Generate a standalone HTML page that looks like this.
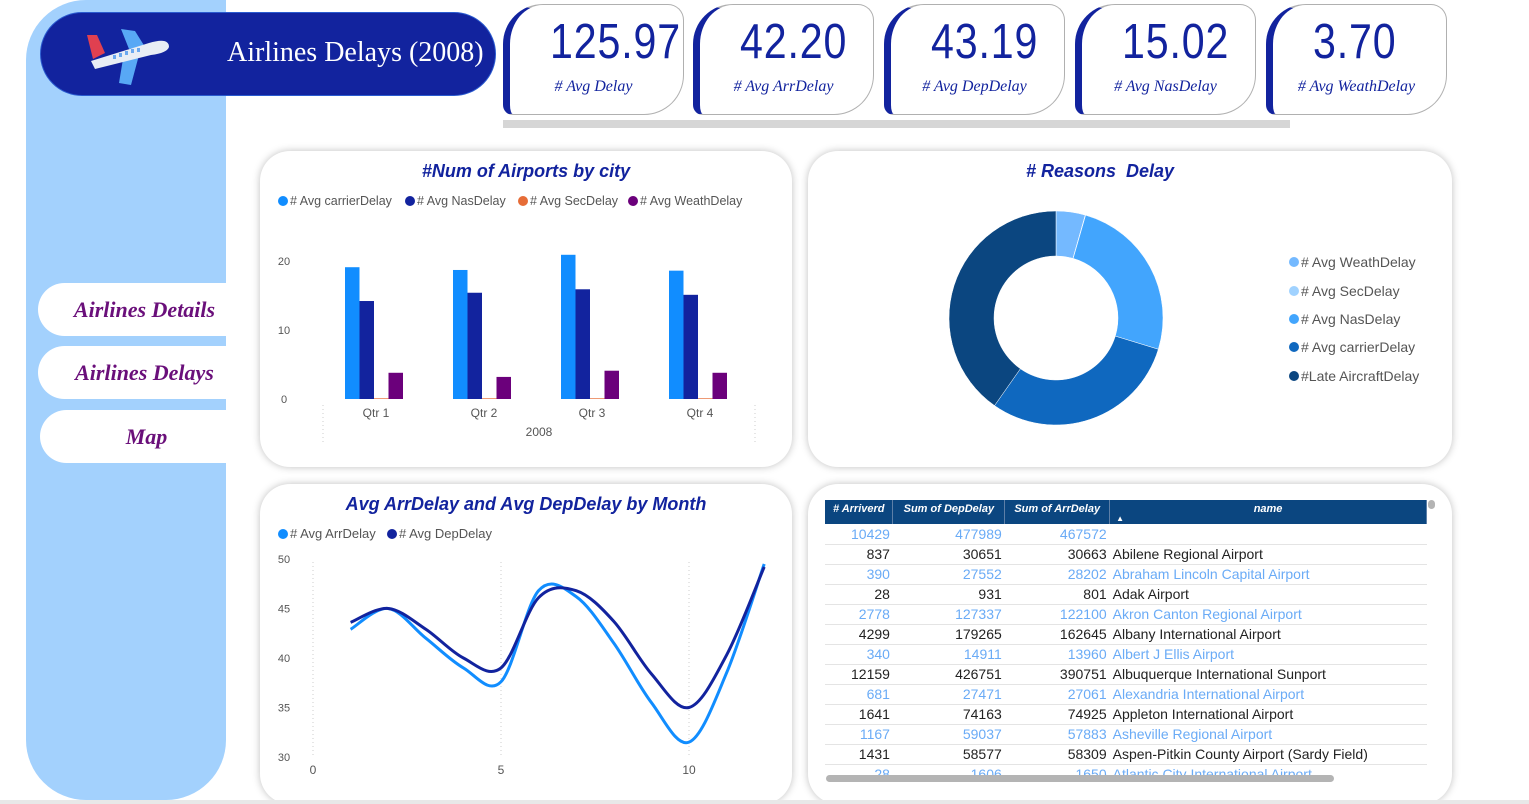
<!DOCTYPE html>
<html><head><meta charset="utf-8">
<style>
*{box-sizing:border-box;margin:0;padding:0}
body{width:1529px;height:804px;background:#fff;position:relative;overflow:hidden;font-family:"Liberation Sans",sans-serif}
.abs{position:absolute}
#sidebar{left:26px;top:0;width:200px;height:800px;background:#a3d1fd;border-radius:60px 0 60px 60px}
#header{left:40px;top:12px;width:456px;height:84px;background:#12239e;border-radius:42px;border:1px solid #2a5bd0}
#header .t{position:absolute;left:186px;top:24px;color:#fff;font-family:"Liberation Serif",serif;font-size:28px;white-space:nowrap}
.nav{position:absolute;left:38px;width:189px;height:53px;background:#fff;border-radius:27px 0 0 27px;color:#6a0f7a;font-family:"Liberation Serif",serif;font-style:italic;font-weight:bold;font-size:22px;text-align:center;line-height:53px;padding-left:24px}
.kpi{position:absolute;top:4px;width:181px;height:111px;border:1px solid #b0b0b0;border-left:7px solid #12239e;border-radius:40px 16px 40px 10px;background:#fff}
.kpi .v{position:absolute;top:9px;left:40px;white-space:nowrap;color:#12239e;font-family:"Liberation Sans",sans-serif;font-size:49px;letter-spacing:1px;transform:scaleX(0.84);transform-origin:left center}
.kpi .l{position:absolute;top:73px;width:100%;text-align:center;color:#12239e;font-family:"Liberation Serif",serif;font-style:italic;font-size:16px;padding-right:6px}
.panel{position:absolute;background:#fff;border-radius:30px;box-shadow:0 0 8px rgba(0,0,0,.25)}
.ptitle{position:absolute;width:100%;text-align:center;color:#12239e;font-style:italic;font-weight:bold;font-size:18px}
table{border-collapse:collapse;font-size:14px}
td{height:20px;border-bottom:1px solid #e4e4e4;padding:0 3px;white-space:nowrap;color:#222}
td.n{text-align:right}
tr.alt td{color:#6aabf6}
th{background:#0b4680;color:#fff;font-size:11px;font-style:italic;font-weight:bold;height:24px;border-right:1px solid #5d7fa7;vertical-align:top;padding-top:3px}
</style></head><body>
<div id="sidebar" class="abs"></div>
<div id="header" class="abs">
 <svg class="abs" style="left:38px;top:12px" width="96" height="60" viewBox="0 0 96 60">
  <polygon points="8,10 18,10 26,28 14,34" fill="#e04050"/>
  <polygon points="42,4 56,6 66,22 50,24" fill="#58a8f5"/>
  <polygon points="44,34 60,30 52,60 40,58" fill="#58a8f5"/>
  <path d="M12,36 L70,18 Q90,12 90,22 Q88,28 72,30 L16,44 Z" fill="#e8edf5"/>
  <g fill="#6aa8f0"><rect x="34" y="30" width="3" height="4"/><rect x="40" y="28" width="3" height="4"/><rect x="46" y="26" width="3" height="4"/><rect x="52" y="24" width="3" height="4"/><rect x="58" y="23" width="3" height="4"/></g>
 </svg>
 <div class="t">Airlines Delays (2008)</div>
</div>
<div class="nav" style="top:283px">Airlines Details</div>
<div class="nav" style="top:346px">Airlines Delays</div>
<div class="nav" style="top:410px;left:40px">Map</div>

<div class="kpi" style="left:503px"><div class="v">125.97</div><div class="l"># Avg Delay</div></div>
<div class="kpi" style="left:693px"><div class="v">42.20</div><div class="l"># Avg ArrDelay</div></div>
<div class="kpi" style="left:884px"><div class="v">43.19</div><div class="l"># Avg DepDelay</div></div>
<div class="kpi" style="left:1075px"><div class="v">15.02</div><div class="l"># Avg NasDelay</div></div>
<div class="kpi" style="left:1266px"><div class="v">3.70</div><div class="l"># Avg WeathDelay</div></div>
<div class="abs" style="left:503px;top:120px;width:787px;height:8px;background:#d6d6d6"></div>

<div class="panel" style="left:260px;top:151px;width:532px;height:316px">
 <div class="ptitle" style="top:10px">#Num of Airports by city</div>
</div>
<div class="panel" style="left:808px;top:151px;width:644px;height:316px">
 <div class="ptitle" style="top:10px;left:-30px"># Reasons&nbsp; Delay</div>
</div>
<div class="panel" style="left:260px;top:484px;width:532px;height:320px">
 <div class="ptitle" style="top:10px">Avg ArrDelay and Avg DepDelay by Month</div>
</div>
<div class="panel" style="left:808px;top:484px;width:644px;height:320px;overflow:hidden">
 <div class="abs" style="left:17px;top:16px;width:602px;height:275px;overflow:hidden">
 <table>
  <colgroup><col style="width:68px"><col style="width:112px"><col style="width:105px"><col style="width:317px"></colgroup>
  <tr><th># Arriverd</th><th>Sum of DepDelay</th><th>Sum of ArrDelay</th><th style="position:relative">name<span style="position:absolute;left:6px;top:14px;font-size:8px;font-style:normal">▲</span></th></tr>
  <tr class="alt"><td class="n">10429</td><td class="n">477989</td><td class="n">467572</td><td></td></tr>
  <tr><td class="n">837</td><td class="n">30651</td><td class="n">30663</td><td>Abilene Regional Airport</td></tr>
  <tr class="alt"><td class="n">390</td><td class="n">27552</td><td class="n">28202</td><td>Abraham Lincoln Capital Airport</td></tr>
  <tr><td class="n">28</td><td class="n">931</td><td class="n">801</td><td>Adak Airport</td></tr>
  <tr class="alt"><td class="n">2778</td><td class="n">127337</td><td class="n">122100</td><td>Akron Canton Regional Airport</td></tr>
  <tr><td class="n">4299</td><td class="n">179265</td><td class="n">162645</td><td>Albany International Airport</td></tr>
  <tr class="alt"><td class="n">340</td><td class="n">14911</td><td class="n">13960</td><td>Albert J Ellis Airport</td></tr>
  <tr><td class="n">12159</td><td class="n">426751</td><td class="n">390751</td><td>Albuquerque International Sunport</td></tr>
  <tr class="alt"><td class="n">681</td><td class="n">27471</td><td class="n">27061</td><td>Alexandria International Airport</td></tr>
  <tr><td class="n">1641</td><td class="n">74163</td><td class="n">74925</td><td>Appleton International Airport</td></tr>
  <tr class="alt"><td class="n">1167</td><td class="n">59037</td><td class="n">57883</td><td>Asheville Regional Airport</td></tr>
  <tr><td class="n">1431</td><td class="n">58577</td><td class="n">58309</td><td>Aspen-Pitkin County Airport (Sardy Field)</td></tr>
  <tr class="alt"><td class="n">28</td><td class="n">1606</td><td class="n">1650</td><td>Atlantic City International Airport</td></tr>
 </table></div>
 <div class="abs" style="left:18px;top:291px;width:508px;height:7px;border-radius:4px;background:#b4b4b4"></div>
 <div class="abs" style="left:620px;top:16px;width:7px;height:9px;border-radius:4px;background:#b4b4b4"></div>
</div>

<svg id="charts" class="abs" style="left:0;top:0" width="1529" height="804"></svg>
<div class="abs" style="left:0;top:800px;width:1529px;height:4px;background:#e8e8e8"></div>

<script>
const quarters=["Qtr 1","Qtr 2","Qtr 3","Qtr 4"];
const carrierDelay=[19.1,18.7,20.9,18.6];
const nasDelay=[14.2,15.4,15.9,15.1];
const secDelay=[0.1,0.1,0.1,0.1];
const weathDelay=[3.8,3.2,4.1,3.8];
const barTicks=[0,10,20];
const months=[1,2,3,4,5,6,7,8,9,10,11,12];
const arrDelay=[42.9,45.0,42.0,39.0,37.6,46.8,46.2,41.5,35.5,31.5,38.5,49.5];
const depDelay=[43.6,45.0,42.9,40.0,39.0,46.1,46.8,43.7,38.4,35.0,40.3,49.2];
const lineYTicks=[30,35,40,45,50];
const lineXTicks=[0,5,10];
const donutLabels=["# Avg WeathDelay","# Avg SecDelay","# Avg NasDelay","# Avg carrierDelay","#Late AircraftDelay"];
const donutValues=[3.7,0.05,21.2,25.2,33.8];

const svg=document.getElementById('charts');
const NS='http://www.w3.org/2000/svg';
function mk(tag,attrs,parent){const e=document.createElementNS(NS,tag);for(const k in attrs)e.setAttribute(k,attrs[k]);(parent||svg).appendChild(e);return e;}
function txt(x,y,s,attrs,parent){const e=mk('text',Object.assign({x:x,y:y,'font-family':'Liberation Sans, sans-serif','font-size':12,fill:'#555'},attrs||{}),parent);e.textContent=s;return e;}

// ---- bar chart ----
const bY=v=>399-v*6.9;
const bX=i=>376+i*108;
const gBar=mk('g',{});


barTicks.forEach(t=>{const e=txt(284,bY(t)+4,String(t),{'font-size':11,'text-anchor':'middle'},gBar);
 });
[323,755].forEach(x=>{const l=mk('line',{x1:x,x2:x,y1:405,y2:442,stroke:'#ccc','stroke-dasharray':'1,3'},gBar);});
const barSeries=[[carrierDelay,'#118dff'],[nasDelay,'#12239e'],[secDelay,'#e66c37'],[weathDelay,'#6b007b']];
quarters.forEach((q,i)=>{
 barSeries.forEach((s,j)=>{const v=s[0][i];
  const r=mk('rect',{x:bX(i)-31+j*14.5,y:bY(v),width:14.5,height:bY(0)-bY(v),fill:s[1]},gBar);
  
  });
 const t=txt(bX(i),417,q,{'text-anchor':'middle'},gBar);
 
});
const yr=txt(539,436,'2008',{'text-anchor':'middle'},gBar);

const barLeg=[['# Avg carrierDelay','#118dff',278],['# Avg NasDelay','#12239e',405],['# Avg SecDelay','#e66c37',518],['# Avg WeathDelay','#6b007b',628]];
barLeg.forEach(l=>{const g=mk('g',{},gBar);
 
 mk('circle',{cx:l[2]+5,cy:201,r:5,fill:l[1]},g);txt(l[2]+12,205,l[0],{'font-size':12.5},g);});

// ---- line chart ----
const lX=m=>313+m*37.6;
const lY=v=>559+(50-v)*9.9;
const gLine=mk('g',{});


lineYTicks.forEach(t=>{const e=txt(284,lY(t)+4,String(t),{'font-size':11,'text-anchor':'middle'},gLine);
 });
lineXTicks.forEach(t=>{const l=mk('line',{x1:lX(t),x2:lX(t),y1:562,y2:755,stroke:'#ccc','stroke-dasharray':'1,3'},gLine);
 
 const e=txt(lX(t),774,String(t),{'text-anchor':'middle'},gLine);
 });
function smooth(xs,ys){const p=xs.map((x,i)=>[lX(x),lY(ys[i])]);let d='M'+p[0][0]+','+p[0][1];
 for(let i=0;i<p.length-1;i++){const p0=p[i-1]||p[i],p1=p[i],p2=p[i+1],p3=p[i+2]||p2;
  const c1=[p1[0]+(p2[0]-p0[0])/6,p1[1]+(p2[1]-p0[1])/6],c2=[p2[0]-(p3[0]-p1[0])/6,p2[1]-(p3[1]-p1[1])/6];
  d+=' C'+c1+' '+c2+' '+p2;}return d;}
const la=mk('path',{d:smooth(months,arrDelay),fill:'none',stroke:'#118dff','stroke-width':3},gLine);

const ld=mk('path',{d:smooth(months,depDelay),fill:'none',stroke:'#12239e','stroke-width':3},gLine);

[['# Avg ArrDelay','#118dff',278],['# Avg DepDelay','#12239e',387]].forEach(l=>{const g=mk('g',{},gLine);
 
 mk('circle',{cx:l[2]+5,cy:534,r:5,fill:l[1]},g);txt(l[2]+12,538,l[0],{'font-size':13},g);});

// ---- donut ----
const cx=1056,cy=318,R=107,r=62;
const gD=mk('g',{});


const dCols=['#74b9ff','#a0d2ff','#42a5fd','#0f68bf','#0b4680'];
const total=donutValues.reduce((a,b)=>a+b,0);
let a0=0;
donutValues.forEach((v,i)=>{const a1=a0+v/total*2*Math.PI;
 const pt=(rad,a)=>[cx+rad*Math.sin(a),cy-rad*Math.cos(a)];
 const big=(a1-a0)>Math.PI?1:0;const o0=pt(R,a0),o1=pt(R,a1),i1=pt(r,a1),i0=pt(r,a0);
 const p=mk('path',{d:`M${o0} A${R},${R} 0 ${big} 1 ${o1} L${i1} A${r},${r} 0 ${big} 0 ${i0} Z`,fill:dCols[i],stroke:'#fff','stroke-width':0.5},gD);
 
 a0=a1;});
donutLabels.forEach((l,i)=>{const y=[262,291,319,347,376][i];const g=mk('g',{},gD);
 
 mk('circle',{cx:1294,cy:y,r:5,fill:dCols[i]},g);txt(1301,y+5,l,{'font-size':14},g);});
</script>
</body></html>
